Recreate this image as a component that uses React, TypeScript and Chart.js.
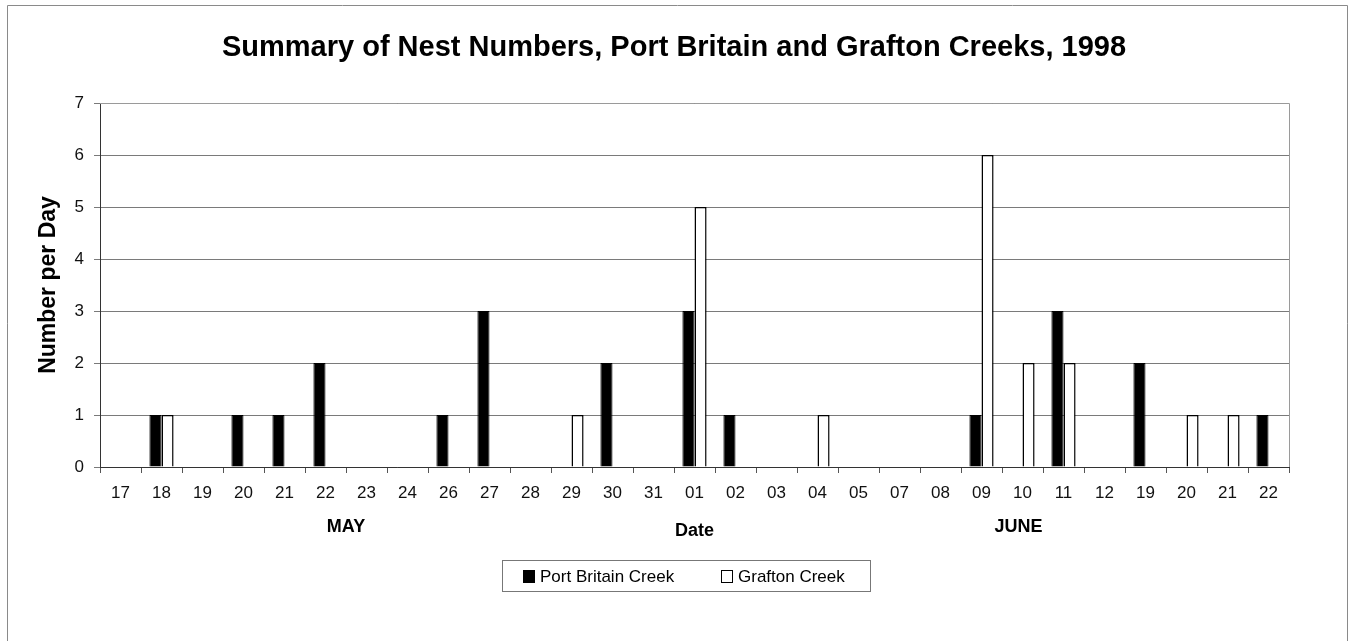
import React, { useEffect, useRef } from "react";
import { Chart, registerables } from "chart.js";

Chart.register(...registerables);

const categories = ["17","18","19","20","21","22","23","24","26","27","28","29","30","31","01","02","03","04","05","07","08","09","10","11","12","19","20","21","22"];
const portBritain = [0,1,0,1,1,2,0,0,1,3,0,0,2,0,3,1,0,0,0,0,0,1,0,3,0,2,0,0,1];
const grafton =     [0,1,0,0,0,0,0,0,0,0,0,1,0,0,5,0,0,1,0,0,0,6,2,2,0,0,1,1,0];
const yTicks = [0,1,2,3,4,5,6,7];
const titleText = "Summary of Nest Numbers, Port Britain and Grafton Creeks, 1998";
const monthLabels = ["MAY", "JUNE"];
const monthPositions = [5.5, 21.9];

const FONT = "'Liberation Sans', Arial, sans-serif";

const decorPlugin = {
  id: "decor",
  beforeDraw(chart: any) {
    const ctx = chart.ctx;
    ctx.save();
    ctx.fillStyle = "#ffffff";
    ctx.fillRect(0, 0, chart.width, chart.height);
    ctx.restore();
  },
  afterDraw(chart: any) {
    const ctx = chart.ctx;
    const area = chart.chartArea;
    const x = chart.scales.x;
    ctx.save();
    // outer frame
    ctx.strokeStyle = "#8a8a8a";
    ctx.lineWidth = 1;
    ctx.beginPath();
    ctx.moveTo(7.5, chart.height + 2);
    ctx.lineTo(7.5, 5.5);
    ctx.lineTo(1347.5, 5.5);
    ctx.lineTo(1347.5, chart.height + 2);
    ctx.stroke();
    // plot area top/right border
    ctx.strokeStyle = "#9a9a9a";
    ctx.beginPath();
    ctx.moveTo(area.left, Math.round(area.top) + 0.5);
    ctx.lineTo(Math.round(area.right) + 0.5, Math.round(area.top) + 0.5);
    ctx.lineTo(Math.round(area.right) + 0.5, area.bottom);
    ctx.stroke();
    // title
    ctx.fillStyle = "#000";
    ctx.font = `bold 29px ${FONT}`;
    ctx.textAlign = "center";
    ctx.textBaseline = "middle";
    ctx.fillText(titleText, 674, 48);
    // month labels
    ctx.font = `bold 18px ${FONT}`;
    monthLabels.forEach((m, i) => {
      ctx.fillText(m, x.getPixelForValue(monthPositions[i]), 527);
    });
    // legend
    const bx = 502.5, by = 560.5, bw = 368, bh = 31;
    ctx.strokeStyle = "#777";
    ctx.lineWidth = 1;
    ctx.strokeRect(bx, by, bw, bh);
    ctx.font = `17px ${FONT}`;
    ctx.textAlign = "left";
    const items = [
      { x: 523, tx: 540 },
      { x: 721, tx: 738 },
    ];
    chart.data.datasets.forEach((ds: any, i: number) => {
      const it = items[i];
      ctx.fillStyle = ds.backgroundColor;
      ctx.fillRect(it.x, 570, 11, 12);
      ctx.strokeStyle = "#000";
      ctx.lineWidth = 1;
      ctx.strokeRect(it.x + 0.5, 570.5, 11, 12);
      ctx.fillStyle = "#000";
      ctx.fillText(ds.label, it.tx, 577);
    });
    ctx.restore();
  },
};

export default function App() {
  const ref = useRef<HTMLCanvasElement | null>(null);
  useEffect(() => {
    if (!ref.current) return;
    const chart = new Chart(ref.current, {
      type: "bar",
      data: {
        labels: categories,
        datasets: [
          {
            label: "Port Britain Creek",
            data: portBritain,
            backgroundColor: "#000000",
            borderColor: "#000000",
            borderWidth: 1,
            categoryPercentage: 0.59,
            barPercentage: 1.0,
          },
          {
            label: "Grafton Creek",
            data: grafton,
            backgroundColor: "#ffffff",
            borderColor: "#000000",
            borderWidth: 1.5,
            categoryPercentage: 0.59,
            barPercentage: 1.0,
          },
        ],
      },
      options: {
        responsive: false,
        animation: false,
        devicePixelRatio: 1,
        layout: { padding: { left: 0, right: 62, top: 103, bottom: 0 } },
        plugins: {
          legend: { display: false },
          title: { display: false },
          tooltip: { enabled: false },
        },
        scales: {
          x: {
            offset: true,
            grid: {
              offset: true,
              drawOnChartArea: false,
              drawTicks: true,
              tickLength: 6,
              color: "#555",
            },
            border: { display: true, color: "#333", width: 1 },
            ticks: {
              color: "#111",
              font: { family: FONT, size: 17 },
              padding: 10,
              maxRotation: 0,
              autoSkip: false,
            },
            title: {
              display: true,
              text: "Date",
              color: "#000",
              font: { family: FONT, size: 18, weight: "bold" },
              padding: { top: 0, bottom: 99 },
            },
            afterFit(scale: any) {
              scale.height = 174;
            },
          },
          y: {
            min: 0,
            max: 7,
            afterBuildTicks(scale: any) {
              scale.ticks = yTicks.map((v) => ({ value: v }));
            },
            grid: {
              color: "#7a7a7a",
              lineWidth: 1,
              drawTicks: true,
              tickLength: 6,
            },
            border: { display: true, color: "#333", width: 1 },
            ticks: {
              color: "#111",
              font: { family: FONT, size: 17 },
              padding: 10,
            },
            title: {
              display: true,
              text: "Number per Day",
              color: "#000",
              font: { family: FONT, size: 23, weight: "bold" },
              padding: { top: 35, bottom: 0 },
            },
            afterFit(scale: any) {
              scale.width = 100;
            },
          },
        },
      },
      plugins: [decorPlugin],
    });
    return () => chart.destroy();
  }, []);
  return (
    <div style={{ position: "fixed", left: 0, top: 0, width: 1351, height: 641, background: "#fff" }}>
      <canvas ref={ref} width={1351} height={641} style={{ display: "block", width: 1351, height: 641 }} />
    </div>
  );
}
